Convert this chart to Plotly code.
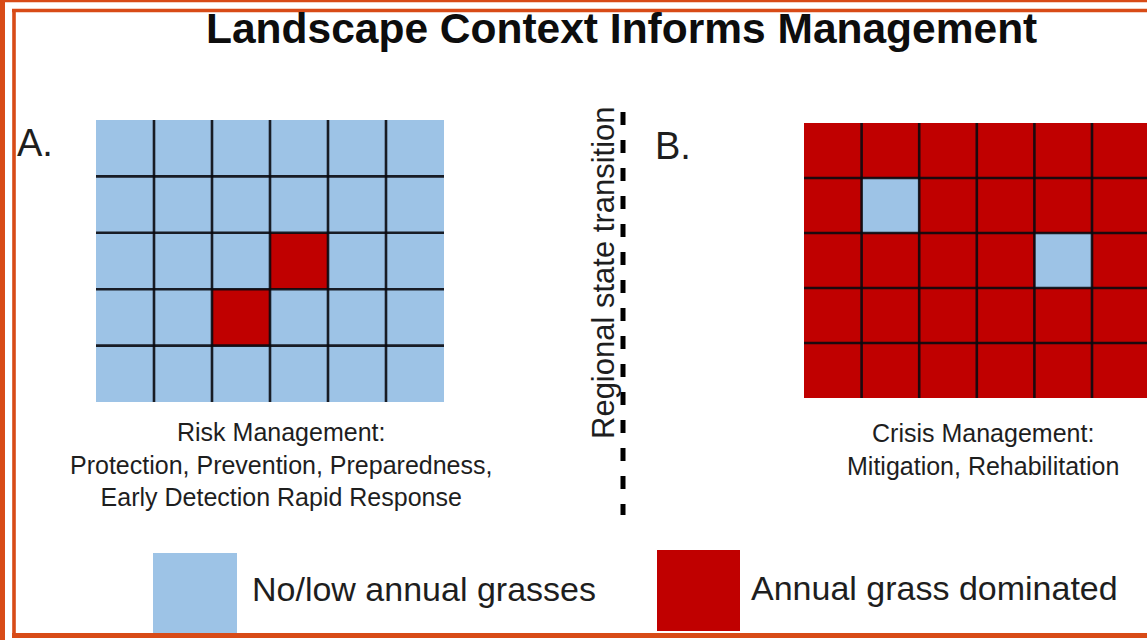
import plotly.graph_objects as go

# ---------------- data ----------------
TITLE = "Landscape Context Informs Management"
PANEL_LABELS = ["A.", "B."]
# 0 = no/low annual grasses, 1 = annual grass dominated (rows listed top to bottom)
GRID_A = [
    [0, 0, 0, 0, 0, 0],
    [0, 0, 0, 0, 0, 0],
    [0, 0, 0, 1, 0, 0],
    [0, 0, 1, 0, 0, 0],
    [0, 0, 0, 0, 0, 0],
]
GRID_B = [
    [1, 1, 1, 1, 1, 1],
    [1, 0, 1, 1, 1, 1],
    [1, 1, 1, 1, 0, 1],
    [1, 1, 1, 1, 1, 1],
    [1, 1, 1, 1, 1, 1],
]
CAPTION_A = ["Risk Management:", "Protection, Prevention, Preparedness,",
             "Early Detection Rapid Response"]
CAPTION_B = ["Crisis Management:", "Mitigation, Rehabilitation"]
DIVIDER_LABEL = "Regional state transition"
LEGEND_LABELS = ["No/low annual grasses", "Annual grass dominated"]

# ---------------- style / layout ----------------
W, H = 1147, 640
BLUE = "#9DC3E6"
RED = "#C00000"
ORANGE = "#D84B17"
GRIDLINE = "rgba(10,10,15,0.9)"
FONT = "Liberation Sans, Arial, Helvetica, sans-serif"
TXT = "#1e1e1e"


def px(x):
    return x / W


def py(y):
    return 1 - y / H


colorscale = [[0, BLUE], [0.5, BLUE], [0.5, RED], [1, RED]]

fig = go.Figure()


def add_grid(grid, xa, ya):
    nr, nc = len(grid), len(grid[0])
    fig.add_trace(go.Heatmap(
        z=grid, x=[c + 0.5 for c in range(nc)], y=[r + 0.5 for r in range(nr)],
        colorscale=colorscale, zmin=0, zmax=1, showscale=False,
        hoverinfo="skip", xaxis=xa, yaxis=ya))
    shapes = []
    for c in range(1, nc):
        shapes.append(dict(type="line", xref=xa, yref=ya, x0=c, x1=c, y0=0, y1=nr,
                           line=dict(color=GRIDLINE, width=2.6)))
    for r in range(1, nr):
        shapes.append(dict(type="line", xref=xa, yref=ya, x0=0, x1=nc, y0=r, y1=r,
                           line=dict(color=GRIDLINE, width=2.6)))
    return shapes


shapes = []
shapes += add_grid(GRID_A, "x", "y")
shapes += add_grid(GRID_B, "x2", "y2")

# panel B is cropped at the right edge of the picture
CELL_B = 57.6
xb0 = 804
xb_range = (W - xb0) / CELL_B

axis_common = dict(visible=False, fixedrange=True, showgrid=False, zeroline=False)
fig.update_layout(
    xaxis=dict(domain=[px(96), px(444)], range=[0, len(GRID_A[0])], **axis_common),
    yaxis=dict(domain=[py(402), py(120)], range=[len(GRID_A), 0], **axis_common),
    xaxis2=dict(domain=[px(xb0), 1.0], range=[0, xb_range], anchor="y2", **axis_common),
    yaxis2=dict(domain=[py(398), py(123)], range=[len(GRID_B), 0], anchor="x2", **axis_common),
)

# dashed divider
shapes.append(dict(type="line", xref="paper", yref="paper", x0=px(623), x1=px(623),
                   y0=py(112), y1=py(515), line=dict(color="black", width=5, dash="13px,15px")))

# legend swatches
shapes.append(dict(type="rect", xref="paper", yref="paper", x0=px(153), x1=px(237),
                   y0=py(633), y1=py(553), fillcolor=BLUE, line=dict(width=0)))
shapes.append(dict(type="rect", xref="paper", yref="paper", x0=px(657), x1=px(740),
                   y0=py(631), y1=py(550), fillcolor=RED, line=dict(width=0)))

# frame lines
frame = [
    (0, 1, W, 1, 2.6),          # outer top
    (2.5, 0, 2.5, H, 5),        # outer left
    (12, 10.5, W, 10.5, 3.4),   # inner top
    (14, 9, 14, 638, 3.6),      # inner left
    (12, 635.5, W, 635.5, 5),   # inner bottom
]
for x0, y0, x1, y1, w in frame:
    shapes.append(dict(type="line", xref="paper", yref="paper", x0=px(x0), x1=px(x1),
                       y0=py(y0), y1=py(y1), line=dict(color=ORANGE, width=w)))

ann = []


def text(t, x, y, size, bold=False, angle=0, color=TXT):
    ann.append(dict(text=f"<b>{t}</b>" if bold else t, x=px(x), y=py(y), xref="paper",
                    yref="paper", xanchor="center", yanchor="middle", showarrow=False,
                    textangle=angle, font=dict(family=FONT, size=size, color=color)))


text(TITLE, 621.5, 29, 42.5, bold=True, color="#0d0d0d")
text(PANEL_LABELS[0], 34.5, 142.5, 38)
text(PANEL_LABELS[1], 673, 146, 38)
text(DIVIDER_LABEL, 603, 273, 31, angle=-90)
text("<br>".join(CAPTION_A), 281, 464, 25)
text("<br>".join(CAPTION_B), 983, 449, 25)
text(LEGEND_LABELS[0], 423.5, 589, 34)
text(LEGEND_LABELS[1], 934.5, 588, 34)

fig.update_layout(
    width=W, height=H, margin=dict(l=0, r=0, t=0, b=0),
    paper_bgcolor="white", plot_bgcolor="white",
    shapes=shapes, annotations=ann, showlegend=False,
)

fig.write_html("out.html", config={"displayModeBar": False},
               post_script="document.body.style.margin='0';document.body.style.overflow='hidden';")
